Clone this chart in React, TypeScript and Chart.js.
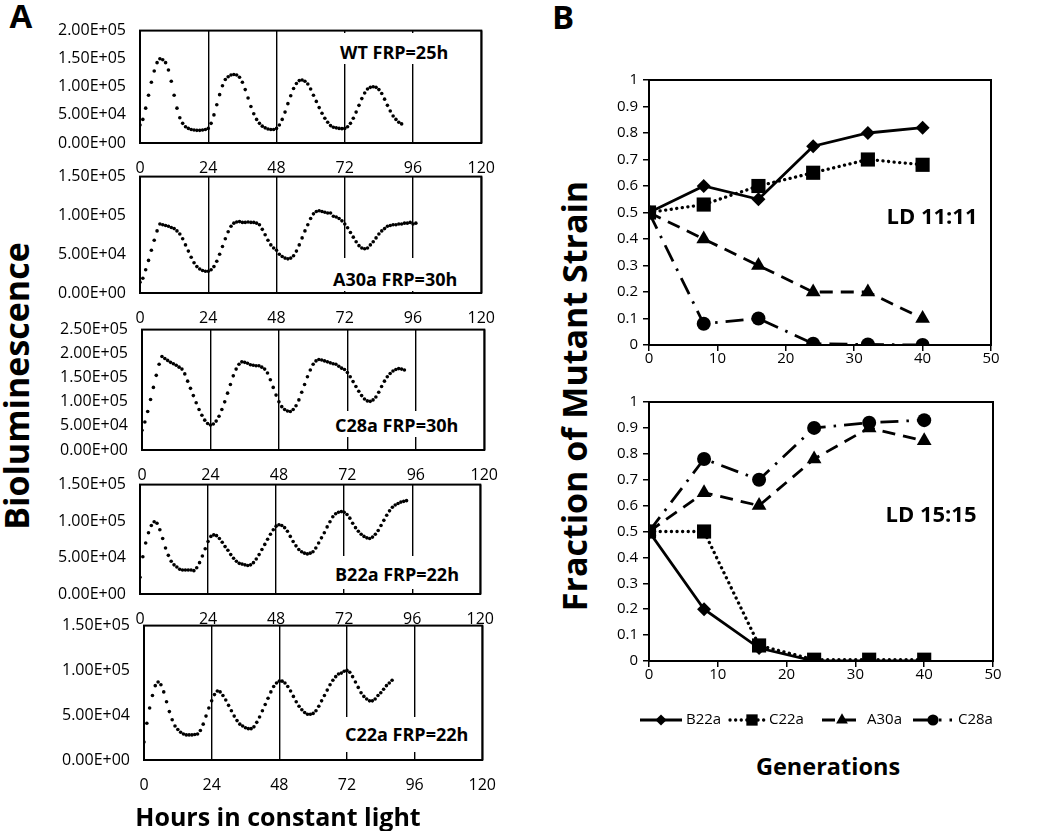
import React, { useEffect, useRef } from 'react';
import { Chart, registerables } from 'chart.js';
import { drawPoint } from 'chart.js/helpers';

Chart.register(...registerables);

// ---------------- DATA ----------------
// Panel A: bioluminescence, one sample per hour in constant light
const wtFRP25 = [
  32000, 42000, 62000, 85000, 108000, 128000, 143000, 150000, 148000, 143000,
  130000, 110000, 85000, 62000, 45000, 35000, 29000, 26000, 24000, 23000,
  22500, 22500, 23000, 24000, 26000, 35000, 50000, 68000, 86000, 102000,
  113000, 118000, 121000, 122000, 121000, 117000, 108000, 95000, 80000, 65000,
  52000, 42000, 35000, 30000, 27000, 25000, 24000, 24000, 26000, 32000,
  42000, 55000, 70000, 84000, 97000, 106000, 111000, 112000, 110000, 105000,
  96000, 85000, 74000, 63000, 53000, 44000, 37000, 31000, 28000, 27000,
  26000, 25500, 26000, 29000, 35000, 44000, 55000, 67000, 79000, 89000,
  96000, 99000, 100000, 99000, 95000, 88000, 78000, 67000, 57000, 48000,
  42000, 37000, 34000,
];
const a30aFRP30 = [
  14000, 19000, 30000, 42000, 55000, 68000, 80000, 89000, 88000, 87000,
  86000, 84500, 83000, 80000, 76000, 70000, 62000, 54000, 46000, 39000,
  34000, 31000, 29000, 28000, 28000, 30000, 34000, 41000, 50000, 60000,
  70000, 79000, 86000, 90000, 91500, 92000, 91000, 91000, 91500, 91000,
  91000, 90000, 88000, 82000, 75000, 68000, 62000, 58000, 55000, 50000,
  47000, 45000, 44000, 45000, 48000, 54000, 62000, 71000, 80000, 88000,
  96000, 102000, 105000, 106000, 105000, 104000, 103000, 103000, 99000, 98000,
  96000, 93000, 89000, 84000, 78000, 72000, 66000, 61000, 58000, 57000,
  58000, 62000, 66000, 71000, 76000, 80000, 83000, 86000, 87000, 88000,
  88000, 89000, 89000, 90000, 90000, 91000, 89000, 90000,
];
const c28aFRP30 = [
  41000, 58000, 80000, 105000, 130000, 155000, 178000, 194000, 190000, 186000,
  182000, 179000, 176000, 172000, 168000, 158000, 143000, 128000, 113000, 98000,
  84000, 72000, 62000, 55000, 52000, 54000, 60000, 70000, 84000, 100000,
  118000, 136000, 154000, 168000, 178000, 183000, 182000, 180000, 177000, 176000,
  175000, 175000, 172000, 168000, 160000, 146000, 130000, 114000, 100000, 90000,
  84000, 81000, 80000, 84000, 92000, 104000, 120000, 136000, 152000, 166000,
  178000, 185000, 188000, 187000, 185000, 183000, 181000, 179000, 178000, 174000,
  170000, 167000, 161000, 152000, 142000, 132000, 122000, 113000, 106000, 102000,
  101000, 104000, 110000, 120000, 132000, 143000, 152000, 159000, 164000, 167000,
  169000, 168000, 166000,
];
const b22aFRP22 = [
  23000, 51000, 70000, 84000, 94000, 99000, 97000, 88000, 76000, 63000,
  53000, 45000, 40000, 37000, 34000, 33000, 33000, 33000, 33000, 32000,
  36000, 43000, 52000, 62000, 72000, 79000, 81000, 80000, 76000, 71000,
  65000, 60000, 54000, 49000, 45000, 42000, 41000, 40000, 39000, 40000,
  43000, 48000, 54000, 61000, 68000, 75000, 82000, 88000, 93000, 95000,
  94000, 91000, 86000, 79000, 72000, 66000, 61000, 58000, 56000, 55000,
  56000, 58000, 63000, 70000, 77000, 84000, 92000, 99000, 106000, 110000,
  112000, 113000, 112000, 109000, 104000, 97000, 91000, 86000, 82000, 79000,
  77000, 76000, 78000, 82000, 87000, 94000, 101000, 108000, 114000, 119000,
  122000, 124000, 126000, 127000, 128000,
];
const c22aFRP22 = [
  20000, 41000, 58000, 72000, 83000, 87000, 84000, 76000, 65000, 54000,
  45000, 38000, 34000, 31000, 29000, 28000, 28000, 28000, 28500, 29000,
  33000, 40000, 49000, 58000, 66000, 73000, 77000, 76000, 72000, 67000,
  61000, 55000, 49000, 44000, 40000, 38000, 36000, 35000, 35000, 37000,
  42000, 48000, 55000, 62000, 69000, 76000, 82000, 86000, 88000, 88000,
  86000, 82000, 77000, 71000, 65000, 60000, 56000, 53000, 51000, 51000,
  52000, 55000, 60000, 66000, 72000, 78000, 84000, 89000, 93000, 96000,
  97000, 99000, 100000, 98000, 93000, 87000, 81000, 75000, 71000, 68000,
  66000, 66000, 68000, 72000, 75000, 79000, 83000, 86000, 89000,
];
const hourTicks = [0, 24, 48, 72, 96, 120];

// Panel B: fraction of mutant strain vs generations
const generations = [0, 8, 16, 24, 32, 40];
const strainNames = ['B22a', 'C22a', 'A30a', 'C28a'];
const ld11B22a = [0.5, 0.6, 0.55, 0.75, 0.8, 0.82];
const ld11C22a = [0.5, 0.53, 0.6, 0.65, 0.7, 0.68];
const ld11A30a = [0.5, 0.4, 0.3, 0.2, 0.2, 0.1];
const ld11C28a = [0.5, 0.08, 0.1, 0.005, 0.002, 0.0];
const ld15B22a = [0.5, 0.2, 0.05, 0.0, 0.0, 0.0];
const ld15C22a = [0.5, 0.5, 0.06, 0.005, 0.005, 0.005];
const ld15A30a = [0.5, 0.65, 0.6, 0.78, 0.9, 0.85];
const ld15C28a = [0.5, 0.78, 0.7, 0.9, 0.92, 0.93];

// ---------------- STYLE / LAYOUT ----------------
const FONT = '"Open Sans", sans-serif';

function sci(v: number) {
  if (v === 0) return '0.00E+00';
  const [m, e] = v.toExponential(2).split('e');
  const n = parseInt(e, 10);
  return `${m}E${n < 0 ? '-' : '+'}${String(Math.abs(n)).padStart(2, '0')}`;
}

const boxPlugin = {
  id: 'box',
  afterDraw(chart: any) {
    const { ctx, chartArea: a } = chart;
    ctx.save();
    ctx.strokeStyle = '#000';
    ctx.lineWidth = 2;
    ctx.strokeRect(a.left, a.top, a.right - a.left, a.bottom - a.top);
    ctx.restore();
  },
};

// Size and place the canvas so that the plot area lands on the wanted page box.
function placeChart(chart: any, canvas: HTMLCanvasElement, t: { left: number; top: number; right: number; bottom: number }) {
  for (let k = 0; k < 3; k++) {
    const a = chart.chartArea;
    const extraW = chart.width - (a.right - a.left);
    const extraH = chart.height - (a.bottom - a.top);
    const w = Math.round(t.right - t.left + extraW);
    const h = Math.round(t.bottom - t.top + extraH);
    if (w === chart.width && h === chart.height) break;
    chart.resize(w, h);
  }
  const b = chart.chartArea;
  canvas.style.left = `${t.left - b.left}px`;
  canvas.style.top = `${t.top - b.top}px`;
}

const panelA = [
  { values: wtFRP25, yMax: 200000, label: 'WT FRP=25h', left: 140, right: 481, top: 31, bottom: 143, labX: 340, labY: 52, maskTop: 33, maskBottom: 64 },
  { values: a30aFRP30, yMax: 150000, label: 'A30a FRP=30h', left: 140, right: 481, top: 177, bottom: 293, labX: 333, labY: 279, maskTop: 258, maskBottom: 291 },
  { values: c28aFRP30, yMax: 250000, label: 'C28a FRP=30h', left: 142, right: 484, top: 330, bottom: 450, labX: 335, labY: 425, maskTop: 411, maskBottom: 437 },
  { values: b22aFRP22, yMax: 150000, label: 'B22a FRP=22h', left: 140, right: 480, top: 485, bottom: 594, labX: 335, labY: 574, maskTop: 556, maskBottom: 589 },
  { values: c22aFRP22, yMax: 150000, label: 'C22a FRP=22h', left: 144, right: 482, top: 626, bottom: 760, labX: 345, labY: 734, maskTop: 717, maskBottom: 752 },
];

function TraceChart({ cfg }: { cfg: any }) {
  const ref = useRef<HTMLCanvasElement>(null);
  useEffect(() => {
    const canvas = ref.current as HTMLCanvasElement;
    const chart = new Chart(canvas, {
      type: 'scatter',
      data: {
        datasets: [
          {
            data: cfg.values.map((v: number, i: number) => ({ x: i, y: v })),
            pointRadius: 1.8,
            pointBackgroundColor: '#000',
            pointBorderWidth: 0,
            showLine: false,
          },
        ],
      },
      options: {
        animation: false,
        responsive: false,
        maintainAspectRatio: false,
        events: [],
        layout: { padding: { top: 4, right: 4, left: 0, bottom: 0 } },
        plugins: { legend: { display: false }, tooltip: { enabled: false } },
        scales: {
          x: {
            type: 'linear',
            min: hourTicks[0],
            max: hourTicks[hourTicks.length - 1],
            afterBuildTicks: (s: any) => {
              s.ticks = hourTicks.map((v) => ({ value: v }));
            },
            afterFit: (s: any) => {
              s.height = 34;
            },
            grid: { color: '#000', lineWidth: 1.4, drawTicks: false },
            border: { display: false },
            ticks: { color: '#000', font: { family: FONT, size: 16 }, padding: 16, maxRotation: 0 },
          },
          y: {
            min: 0,
            max: cfg.yMax,
            afterFit: (s: any) => {
              s.width = 100;
            },
            grid: { display: false, drawTicks: false },
            border: { display: false },
            ticks: {
              stepSize: 50000,
              callback: (v: any) => sci(Number(v)),
              color: '#000',
              font: { family: FONT, size: 16 },
              padding: 14,
            },
          },
        },
      } as any,
      plugins: [boxPlugin],
    });
    placeChart(chart, canvas, { left: cfg.left, right: cfg.right, top: cfg.top, bottom: cfg.bottom });
    return () => chart.destroy();
  }, []);
  return (
    <>
      <canvas ref={ref} width={500} height={200} style={{ position: 'absolute', left: 0, top: 0 }} />
      <div
        style={{
          position: 'absolute',
          left: cfg.labX - 8,
          top: cfg.maskTop,
          width: cfg.right - 2 - (cfg.labX - 8),
          height: cfg.maskBottom - cfg.maskTop,
          background: '#fff',
        }}
      />
      <div
        style={{
          position: 'absolute',
          left: cfg.labX,
          top: cfg.labY,
          transform: 'translateY(-50%)',
          fontFamily: FONT,
          fontWeight: 700,
          fontSize: 18,
          lineHeight: 1,
          whiteSpace: 'nowrap',
          color: '#000',
        }}
      >
        {cfg.label}
      </div>
    </>
  );
}

const seriesStyles = [
  { borderDash: [], borderWidth: 2.8, pointStyle: 'rectRot', pointRadius: 7, borderCapStyle: 'butt' },
  { borderDash: [0.1, 5.5], borderWidth: 3.3, pointStyle: 'rect', pointRadius: 10, borderCapStyle: 'round' },
  { borderDash: [13, 8], borderWidth: 2.8, pointStyle: 'triangle', pointRadius: 8.5, borderCapStyle: 'butt' },
  { borderDash: [18, 8, 2.5, 8], borderWidth: 2.8, pointStyle: 'circle', pointRadius: 7, borderCapStyle: 'butt' },
];

// legend positions given in page coordinates, converted through the plot box
const legendPlugin = {
  id: 'lineLegend',
  afterDraw(chart: any, _args: any, opts: any) {
    if (!opts || !opts.items) return;
    const { ctx, chartArea: a } = chart;
    const dx = a.left - opts.plotLeft;
    const dy = a.top - opts.plotTop;
    const y = opts.y + dy;
    ctx.save();
    opts.items.forEach((it: any, i: number) => {
      const ds = chart.data.datasets[i];
      ctx.strokeStyle = '#000';
      ctx.fillStyle = '#000';
      ctx.lineWidth = ds.borderWidth;
      ctx.lineCap = ds.borderCapStyle;
      ctx.setLineDash(ds.borderDash);
      ctx.beginPath();
      ctx.moveTo(it.x0 + dx, y);
      ctx.lineTo(it.x1 + dx, y);
      ctx.stroke();
      ctx.setLineDash([]);
      drawPoint(ctx, { pointStyle: ds.pointStyle, radius: ds.pointRadius * 0.8, rotation: 0, borderWidth: 0 } as any, it.xm + dx, y);
      ctx.font = `15px ${FONT}`;
      ctx.textBaseline = 'middle';
      ctx.textAlign = 'left';
      ctx.fillText(ds.label, it.xt + dx, y);
    });
    ctx.restore();
  },
};

const panelB = [
  { series: [ld11B22a, ld11C22a, ld11A30a, ld11C28a], left: 649, right: 991, top: 80, bottom: 345, legend: false },
  { series: [ld15B22a, ld15C22a, ld15A30a, ld15C28a], left: 649, right: 993, top: 402, bottom: 661, legend: true },
];
const LEGEND_Y = 720;
const legendItems = [
  { x0: 640, x1: 682, xm: 661, xt: 686 },
  { x0: 730, x1: 767, xm: 752, xt: 769 },
  { x0: 822, x1: 860, xm: 842, xt: 867 },
  { x0: 913, x1: 952, xm: 933, xt: 958 },
];

function FractionChart({ cfg }: { cfg: any }) {
  const ref = useRef<HTMLCanvasElement>(null);
  useEffect(() => {
    const canvas = ref.current as HTMLCanvasElement;
    const chart = new Chart(canvas, {
      type: 'line',
      data: {
        datasets: cfg.series.map((vals: number[], i: number) => ({
          label: strainNames[i],
          data: vals.map((v, j) => ({ x: generations[j], y: v })),
          borderColor: '#000',
          backgroundColor: '#000',
          pointBackgroundColor: '#000',
          pointBorderColor: '#000',
          pointBorderWidth: 0,
          ...seriesStyles[i],
        })),
      },
      options: {
        animation: false,
        responsive: false,
        maintainAspectRatio: false,
        events: [],
        layout: { padding: { top: 6, left: 0, right: 6, bottom: cfg.legend ? 50 : 0 } },
        plugins: {
          legend: { display: false },
          tooltip: { enabled: false },
          lineLegend: cfg.legend
            ? { y: LEGEND_Y, plotLeft: cfg.left, plotTop: cfg.top, items: legendItems }
            : {},
        },
        scales: {
          x: {
            type: 'linear',
            min: 0,
            max: 50,
            afterFit: (s: any) => {
              s.height = 30;
            },
            grid: { display: true, drawOnChartArea: false, drawTicks: true, tickLength: 6, color: '#000', lineWidth: 1.5 },
            border: { display: false },
            ticks: { stepSize: 10, color: '#000', font: { family: FONT, size: 15 }, padding: -1, maxRotation: 0 },
          },
          y: {
            min: 0,
            max: 1,
            afterFit: (s: any) => {
              s.width = 50;
            },
            grid: { display: true, drawOnChartArea: false, drawTicks: true, tickLength: 6, color: '#000', lineWidth: 1.5 },
            border: { display: false },
            ticks: {
              stepSize: 0.1,
              color: '#000',
              font: { family: FONT, size: 15 },
              padding: 5,
              callback: (v: any) => String(Math.round(Number(v) * 10) / 10),
            },
          },
        },
      } as any,
      plugins: [boxPlugin, legendPlugin],
    });
    placeChart(chart, canvas, { left: cfg.left, right: cfg.right, top: cfg.top, bottom: cfg.bottom });
    return () => chart.destroy();
  }, []);
  return <canvas ref={ref} width={440} height={360} style={{ position: 'absolute', left: 0, top: 0 }} />;
}

function Txt({ x, y, size, rotate, children }: any) {
  return (
    <div
      style={{
        position: 'absolute',
        left: x,
        top: y,
        transform: `translate(-50%, -50%)${rotate ? ' rotate(-90deg)' : ''}`,
        fontFamily: FONT,
        fontWeight: 700,
        fontSize: size,
        lineHeight: 1,
        whiteSpace: 'nowrap',
        color: '#000',
      }}
    >
      {children}
    </div>
  );
}

export default function App() {
  return (
    <div style={{ position: 'absolute', left: 0, top: 0, width: 1050, height: 831, background: '#fff', overflow: 'hidden' }}>
      {panelA.map((cfg, i) => (
        <TraceChart key={i} cfg={cfg} />
      ))}
      {panelB.map((cfg, i) => (
        <FractionChart key={i} cfg={cfg} />
      ))}
      <Txt x={21} y={15} size={33}>A</Txt>
      <Txt x={563} y={16} size={33}>B</Txt>
      <Txt x={16} y={386} size={34} rotate>Bioluminescence</Txt>
      <Txt x={278} y={816} size={25}>Hours in constant light</Txt>
      <Txt x={574} y={396} size={34} rotate>Fraction of Mutant Strain</Txt>
      <Txt x={828} y={767} size={23.5}>Generations</Txt>
      <Txt x={932} y={215} size={22}>LD 11:11</Txt>
      <Txt x={931} y={513} size={22}>LD 15:15</Txt>
    </div>
  );
}
